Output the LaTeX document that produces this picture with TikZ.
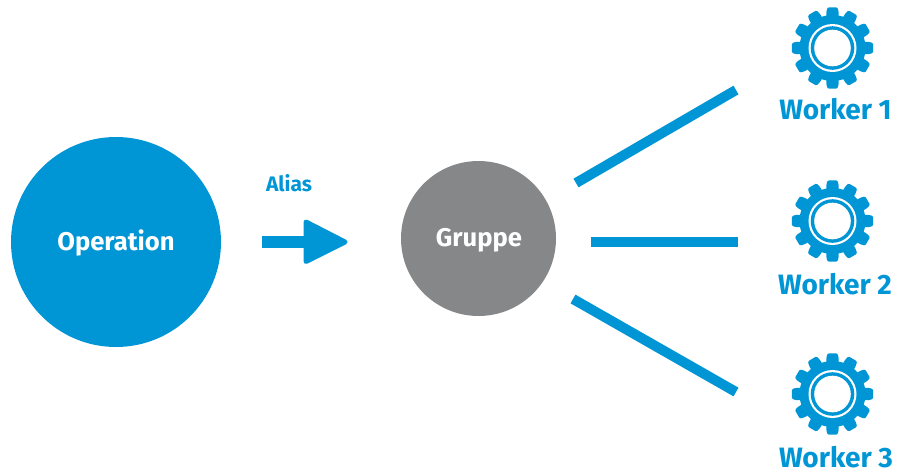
\documentclass[tikz,border=0pt]{standalone}
\usepackage{fontspec}
\setmainfont{Fira Sans}
\definecolor{hpblue}{HTML}{0096D6}
\definecolor{hpgray}{HTML}{868789}
\tikzset{
  x=1pt,y=-1pt,
  disc/.style={circle,inner sep=0pt,minimum size=#1,text=white},
  lbl/.style={font=\bfseries\fontsize{25.6}{26}\selectfont,inner sep=0pt},
  wlabel/.style={font=\bfseries\fontsize{28}{28}\selectfont,inner sep=0pt,text=hpblue},
  spoke/.style={draw=hpblue,line width=10pt},
  pics/gear/.style={code={
    \foreach \a in {0,30,...,330}{
      \fill[hpblue,rotate=\a,rounded corners=1.2pt] (-6.2,-26) -- (-6.2,-36) -- (-5,-40.6) -- (5,-40.6) -- (6.2,-36) -- (6.2,-26) -- cycle;
    }
    \fill[hpblue] (0,0) circle (33);
    \fill[white] (0,0) circle (24);
    \fill[hpblue] (0,0) circle (21.8);
    \fill[white] (0,0) circle (18.3);
  }}
}
\begin{document}
\begin{tikzpicture}
\useasboundingbox (0,0) rectangle (898,474);
\node[disc=210pt,fill=hpblue] (op) at (116,242) {};
\node[lbl,text=white] (optext) at (116,242.5) {Operation};
\node[disc=155pt,fill=hpgray] (gr) at (478.5,238.5) {};
\node[lbl,text=white] (grtext) at (479,240) {Gruppe};
\node[font=\bfseries\fontsize{21}{21}\selectfont,inner sep=0pt,text=hpblue] (al) at (289,183.5) {Alias};
\fill[hpblue] (262,235.7) rectangle (306,248);
\fill[hpblue,draw=hpblue,line width=5pt,line join=round] (306,222) -- (345,242) -- (306,261.5) -- cycle;
\pic at (832.5,48) {gear};
\pic at (832.5,221) {gear};
\pic at (832.5,394) {gear};
\node[wlabel] (w1) at (835.5,109) {Worker 1};
\node[wlabel] (w2) at (835,284) {Worker 2};
\node[wlabel] (w3) at (836,457) {Worker 3};
\coordinate (a1) at (576,183);
\coordinate (b1) at (736,90);
\coordinate (a2) at (591,241.5);
\coordinate (b2) at (738,241.5);
\coordinate (a3) at (573,299);
\coordinate (b3) at (736,392);
\draw[spoke] (a1) -- (b1);
\draw[spoke] (a2) -- (b2);
\draw[spoke] (a3) -- (b3);
\end{tikzpicture}
\end{document}
